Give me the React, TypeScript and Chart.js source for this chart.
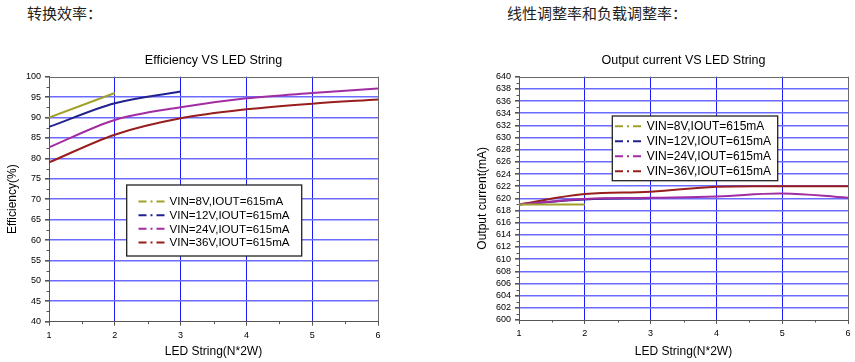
import React, { useEffect, useRef } from "react";
import { Chart, registerables } from "chart.js";

Chart.register(...registerables);
Chart.defaults.font.family = "'Liberation Sans', Arial, sans-serif";

// ---------- data ----------
const stringCounts = [1, 2, 3, 4, 5, 6];
const seriesLabels = [
  "VIN=8V,IOUT=615mA",
  "VIN=12V,IOUT=615mA",
  "VIN=24V,IOUT=615mA",
  "VIN=36V,IOUT=615mA",
];
const seriesColors = ["#a0a02a", "#22228e", "#a22ca2", "#981e1e"];

const efficiency8V = [90.0, 96.0];
const efficiency12V = [87.7, 93.5, 96.4];
const efficiency24V = [82.7, 89.4, 92.5, 94.7, 96.0, 97.1];
const efficiency36V = [79.0, 85.8, 89.8, 92.0, 93.4, 94.4];

const current8V = [619.0, 619.0];
const current12V = [619.0, 619.8, 620.0];
const current24V = [619.0, 619.9, 620.1, 620.3, 620.8, 620.1];
const current36V = [619.0, 620.7, 621.1, 621.9, 622.0, 622.0];

const efficiencyAxis = [40, 100, 5, 2.5]; // min, max, step, minor
const currentAxis = [600, 640, 2, 1];
const xAxis = [1, 6, 1, 0.5];

const headingLeft = "转换效率：";
const headingRight = "线性调整率和负载调整率：";
const titleLeft = "Efficiency VS LED String";
const titleRight = "Output current VS LED String";
const yTitleLeft = "Efficiency(%)";
const yTitleRight = "Output current(mA)";
const xTitle = "LED String(N*2W)";

// ---------- helpers ----------
const toPoints = (vals: number[]) => vals.map((v, i) => ({ x: stringCounts[i], y: v }));

const decorPlugin = {
  id: "decor",
  beforeDatasetsDraw(chart: any, _args: any, opts: any) {
    const { ctx, chartArea: a, scales } = chart;
    const xs = scales.x;
    const ys = scales.y;
    ctx.save();
    ctx.strokeStyle = "#555";
    ctx.lineWidth = 1;
    // minor ticks y
    const [ymin, ymax, ystep, yminor] = opts.yAxis;
    for (let v = ymin + yminor; v < ymax; v += yminor) {
      if (Math.abs(v / ystep - Math.round(v / ystep)) < 1e-6) continue;
      const py = Math.round(ys.getPixelForValue(v)) + 0.5;
      ctx.beginPath();
      ctx.moveTo(a.left - 2.5, py);
      ctx.lineTo(a.left, py);
      ctx.stroke();
    }
    const [xmin, xmax, xstep, xminor] = xAxis;
    for (let v = xmin + xminor; v < xmax; v += xminor) {
      if (Math.abs(v / xstep - Math.round(v / xstep)) < 1e-6) continue;
      const px = Math.round(xs.getPixelForValue(v)) + 0.5;
      ctx.beginPath();
      ctx.moveTo(px, a.bottom);
      ctx.lineTo(px, a.bottom + 2.5);
      ctx.stroke();
    }
    // frame top and right
    ctx.strokeStyle = "#6a6a6a";
    ctx.beginPath();
    ctx.moveTo(a.left, Math.round(a.top) + 0.5);
    ctx.lineTo(a.right, Math.round(a.top) + 0.5);
    ctx.moveTo(Math.round(a.right) + 0.5, a.top);
    ctx.lineTo(Math.round(a.right) + 0.5, a.bottom);
    ctx.stroke();
    ctx.restore();
  },
  afterDraw(chart: any, _args: any, opts: any) {
    const { ctx } = chart;
    const L = opts.legend;
    ctx.save();
    ctx.fillStyle = "#fff";
    ctx.fillRect(L.x, L.y, L.w, L.h);
    ctx.strokeStyle = "#222";
    ctx.lineWidth = 1.3;
    ctx.strokeRect(L.x, L.y, L.w, L.h);
    chart.data.datasets.forEach((ds: any, i: number) => {
      const yy = L.rowY + i * L.rowGap;
      ctx.strokeStyle = ds.borderColor;
      ctx.lineWidth = 2;
      ctx.setLineDash([8, 4, 2, 4]);
      ctx.beginPath();
      ctx.moveTo(L.sx0, yy);
      ctx.lineTo(L.sx1, yy);
      ctx.stroke();
      ctx.setLineDash([]);
      ctx.fillStyle = "#000";
      ctx.font = `${L.font}px 'Liberation Sans', Arial, sans-serif`;
      ctx.textBaseline = "middle";
      ctx.textAlign = "left";
      ctx.fillText(ds.label, L.tx, yy + 0.5);
    });
    ctx.restore();
  },
};

type ChartSpec = {
  title: string;
  yTitle: string;
  yAxis: number[];
  series: number[][];
  order: number[];
  smooth: "monotone" | "tension";
  xHeight: number;
  legend: any;
};

function LineChart({ spec, left }: { spec: ChartSpec; left: number }) {
  const ref = useRef<HTMLCanvasElement | null>(null);
  useEffect(() => {
    if (!ref.current) return;
    const [ymin, ymax, ystep] = spec.yAxis;
    const gridY = (c: any) =>
      c.tick && (c.tick.value === ymin || c.tick.value === ymax) ? "rgba(0,0,0,0)" : "#6b6bff";
    const gridX = (c: any) =>
      c.tick && (c.tick.value === xAxis[0] || c.tick.value === xAxis[1]) ? "rgba(0,0,0,0)" : "#1a1aff";
    const chart = new Chart(ref.current, {
      type: "line",
      data: {
        datasets: spec.series.map((vals, i) => ({
          label: seriesLabels[i],
          data: toPoints(vals),
          borderColor: seriesColors[i],
          backgroundColor: seriesColors[i],
          borderWidth: 2,
          pointRadius: 0,
          fill: false,
          order: spec.order[i],
          ...(spec.smooth === "monotone"
            ? { cubicInterpolationMode: "monotone" as const }
            : { tension: 0.4 }),
        })),
      },
      options: {
        animation: false,
        responsive: false,
        maintainAspectRatio: false,
        layout: { padding: { left: 0, right: 7, top: 0, bottom: 0 } },
        plugins: {
          legend: { display: false },
          tooltip: { enabled: false },
          title: {
            display: true,
            text: spec.title,
            fullSize: false,
            color: "#000",
            font: { size: 12.5, weight: "normal" as any, lineHeight: 1.2 },
            padding: { top: 13, bottom: 8.7 },
          },
          decor: { yAxis: spec.yAxis, legend: spec.legend },
        } as any,
        scales: {
          x: {
            type: "linear",
            min: xAxis[0],
            max: xAxis[1],
            afterFit: (s: any) => {
              s.height = spec.xHeight;
            },
            ticks: { stepSize: xAxis[2], color: "#000", font: { size: 9 }, padding: 4, maxRotation: 0, autoSkip: false },
            grid: { color: gridX, lineWidth: 1, tickLength: 4, tickColor: "#555", drawTicks: true },
            border: { display: true, color: "#555", width: 1 },
            title: {
              display: true,
              text: xTitle,
              color: "#000",
              font: { size: 12, lineHeight: 1.2 },
              padding: { top: 0, bottom: 2.8 },
            },
          },
          y: {
            type: "linear",
            min: ymin,
            max: ymax,
            afterFit: (s: any) => {
              s.width = 49;
            },
            ticks: { stepSize: ystep, color: "#000", font: { size: 9 }, padding: 4, autoSkip: false },
            grid: { color: gridY, lineWidth: 1.6, tickLength: 4, tickColor: "#555", drawTicks: true },
            border: { display: true, color: "#555", width: 1 },
            title: {
              display: true,
              text: spec.yTitle,
              color: "#000",
              font: { size: 12, lineHeight: 1.2 },
              padding: { top: 5.8, bottom: 0 },
            },
          },
        },
      },
      plugins: [decorPlugin as any],
    });
    return () => chart.destroy();
  }, [spec]);
  return (
    <canvas
      ref={ref}
      width={385}
      height={322}
      style={{ position: "absolute", left, top: 40, width: 385, height: 322 }}
    />
  );
}

const leftSpec: ChartSpec = {
  title: titleLeft,
  yTitle: yTitleLeft,
  yAxis: efficiencyAxis,
  series: [efficiency8V, efficiency12V, efficiency24V, efficiency36V],
  order: [0, 1, 2, 3],
  smooth: "monotone",
  xHeight: 40.3,
  legend: { x: 126.7, y: 145, w: 175, h: 71, rowY: 161.6, rowGap: 13.6, sx0: 138.5, sx1: 166, tx: 169.5, font: 11.6 },
};

const rightSpec: ChartSpec = {
  title: titleRight,
  yTitle: yTitleRight,
  yAxis: currentAxis,
  series: [current8V, current12V, current24V, current36V],
  order: [0, 2, 1, 3],
  smooth: "tension",
  xHeight: 42,
  legend: { x: 142.3, y: 76, w: 165.4, h: 64.7, rowY: 86.2, rowGap: 15, sx0: 145, sx1: 174.3, tx: 176.7, font: 12 },
};

export default function App() {
  const headStyle: React.CSSProperties = {
    position: "absolute",
    top: 5,
    fontFamily: "'Noto Sans CJK SC', sans-serif",
    fontSize: 15,
    lineHeight: "16px",
    color: "#222",
    whiteSpace: "nowrap",
  };
  return (
    <div
      style={{
        position: "absolute",
        left: 0,
        top: 0,
        width: 855,
        height: 362,
        background: "#fff",
        overflow: "hidden",
      }}
    >
      <div style={{ ...headStyle, left: 27 }}>{headingLeft}</div>
      <div style={{ ...headStyle, left: 507 }}>{headingRight}</div>
      <LineChart spec={leftSpec} left={0} />
      <LineChart spec={rightSpec} left={470} />
    </div>
  );
}
